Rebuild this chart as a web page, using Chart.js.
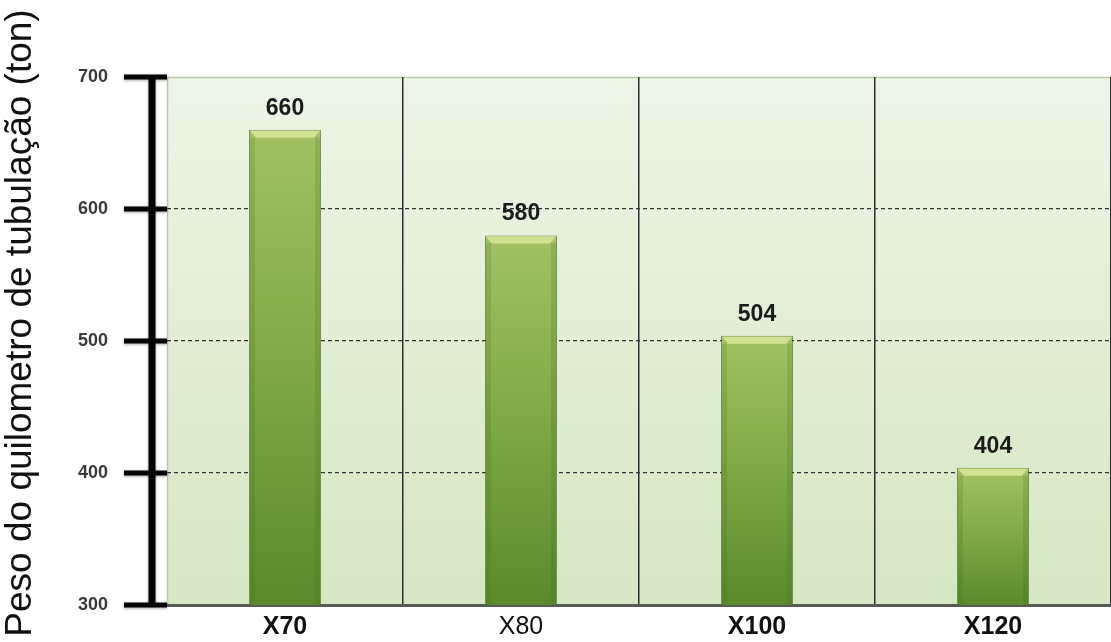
<!DOCTYPE html>
<html lang="pt">
<head>
<meta charset="utf-8">
<title>Peso do quilometro de tubulação</title>
<script src="https://cdn.jsdelivr.net/npm/chart.js@4.4.1/dist/chart.umd.min.js"></script>
<style>
  html, body { margin: 0; padding: 0; background: #ffffff; }
  #wrap { width: 1111px; height: 642px; }
</style>
</head>
<body>
<div id="wrap"><canvas id="grafico" width="1111" height="642"></canvas></div>
<script>
// aços API 5L e peso por km de tubo
const categories = ['X70', 'X80', 'X100', 'X120'];
const pesoTon = [660, 580, 504, 404];
const yTicks = [300, 400, 500, 600, 700];
const tituloY = 'Peso do quilometro de tubulação (ton)';

const FONTE = 'Arial, "Liberation Sans", sans-serif';

// fundo verde claro da área do gráfico
const fundoPlot = {
  id: 'fundoPlot',
  beforeDraw(chart) {
    const { ctx, chartArea: a } = chart;
    const g = ctx.createLinearGradient(0, a.top, 0, a.bottom);
    g.addColorStop(0, '#edf5e6');
    g.addColorStop(1, '#d5e7c3');
    ctx.save();
    ctx.fillStyle = g;
    ctx.fillRect(a.left, a.top, a.right - a.left, a.bottom - a.top);
    ctx.strokeStyle = '#b9cba6';
    ctx.lineWidth = 1.5;
    ctx.beginPath();
    ctx.moveTo(a.left + 0.5, a.bottom);
    ctx.lineTo(a.left + 0.5, a.top + 0.5);
    ctx.lineTo(a.right, a.top + 0.5);
    ctx.stroke();
    ctx.restore();
  }
};

// brilho no topo das barras + valores
const topoBarras = {
  id: 'topoBarras',
  afterDatasetsDraw(chart) {
    const { ctx, chartArea } = chart;
    const meta = chart.getDatasetMeta(0);
    const fundo = chartArea.bottom;
    ctx.save();
    meta.data.forEach((bar, i) => {
      const w = bar.width;
      const x0 = bar.x - w / 2, x1 = bar.x + w / 2;
      const y = bar.y;
      ctx.fillStyle = 'rgba(222, 234, 160, 0.8)';
      ctx.beginPath();
      ctx.moveTo(x0 + 1, y + 1);
      ctx.lineTo(x1 - 1, y + 1);
      ctx.lineTo(x1 - 7, y + 8);
      ctx.lineTo(x0 + 7, y + 8);
      ctx.closePath();
      ctx.fill();
      // bordas laterais mais escuras
      ctx.fillStyle = 'rgba(60, 100, 25, 0.18)';
      ctx.fillRect(x0 + 1, y + 8, 5, fundo - y - 8);
      ctx.fillRect(x1 - 6, y + 8, 5, fundo - y - 8);

      ctx.fillStyle = '#1c1c1c';
      ctx.font = 'bold 23px ' + FONTE;
      ctx.textAlign = 'center';
      ctx.textBaseline = 'alphabetic';
      ctx.fillText(String(pesoTon[i]), bar.x, y - 15);
    });
    ctx.restore();
  }
};

// eixo vertical preto grosso com marcas e título
const eixoY = {
  id: 'eixoY',
  afterDraw(chart) {
    const { ctx, scales: { y } } = chart;
    const xEixo = 152;
    ctx.save();
    ctx.shadowColor = 'rgba(0,0,0,0.35)';
    ctx.shadowBlur = 3;
    ctx.shadowOffsetY = 1;
    ctx.fillStyle = '#050505';
    const yTop = y.getPixelForValue(y.max);
    const yBot = y.getPixelForValue(y.min);
    ctx.fillRect(xEixo - 3.5, yTop, 7, yBot - yTop);
    yTicks.forEach(v => {
      const py = y.getPixelForValue(v);
      ctx.fillRect(124, py - 2.5, chart.chartArea.left - 124, 5);
    });
    ctx.restore();

    ctx.save();
    ctx.translate(21, 323);
    ctx.rotate(-Math.PI / 2);
    ctx.fillStyle = '#111111';
    ctx.font = '37px ' + FONTE;
    ctx.textAlign = 'center';
    ctx.textBaseline = 'middle';
    ctx.fillText(tituloY, 0, 0);
    ctx.restore();
  }
};

const ctx = document.getElementById('grafico').getContext('2d');
new Chart(ctx, {
  type: 'bar',
  data: {
    labels: categories,
    datasets: [{
      data: pesoTon,
      backgroundColor(c) {
        const chart = c.chart;
        const y = chart.scales.y;
        if (!chart.chartArea || !y) return '#86a94a';
        const top = y.getPixelForValue(c.raw);
        const bot = y.getPixelForValue(y.min);
        const g = chart.ctx.createLinearGradient(0, top, 0, bot);
        g.addColorStop(0, '#a3c263');
        g.addColorStop(0.45, '#83ab48');
        g.addColorStop(1, '#5a8a2c');
        return g;
      },
      borderColor: 'rgba(70, 105, 35, 0.7)',
      borderWidth: 1,
      barPercentage: 0.305,
      categoryPercentage: 1
    }]
  },
  options: {
    responsive: false,
    animation: false,
    layout: { padding: { top: 77, left: 0, right: 0, bottom: 0 } },
    plugins: {
      legend: { display: false },
      tooltip: { enabled: false }
    },
    scales: {
      x: {
        grid: {
          offset: true,
          drawTicks: false,
          color: c => (c.index === 0 ? 'rgba(0,0,0,0)' : '#2e2e2e'),
          lineWidth: 1.5
        },
        border: { display: true, color: '#5a5a5a', width: 3 },
        ticks: {
          padding: 7,
          maxRotation: 0,
          color: '#111111',
          font: c => ({
            family: FONTE,
            size: 25,
            weight: c.index === 1 ? 'normal' : 'bold'
          })
        },
        afterFit(scale) { scale.height = 37; }
      },
      y: {
        min: yTicks[0],
        max: yTicks[yTicks.length - 1],
        ticks: {
          stepSize: 100,
          padding: 59,
          color: '#3a3a3a',
          font: { family: FONTE, size: 18, weight: 'bold' }
        },
        grid: {
          drawTicks: false,
          color: c => (c.tick.value === yTicks[0] || c.tick.value === yTicks[yTicks.length - 1]) ? 'rgba(0,0,0,0)' : '#333333',
          lineWidth: 1.3,
          tickBorderDash: [4, 3]
        },
        border: { display: false, dash: [4, 3] },
        afterFit(scale) {
          // largura fixa; o padding dos rótulos não deve encolher a área
          scale.width = 167;
          scale.paddingTop = 10;
          scale.paddingBottom = 10;
        }
      }
    }
  },
  plugins: [fundoPlot, topoBarras, eixoY]
});
</script>
</body>
</html>
